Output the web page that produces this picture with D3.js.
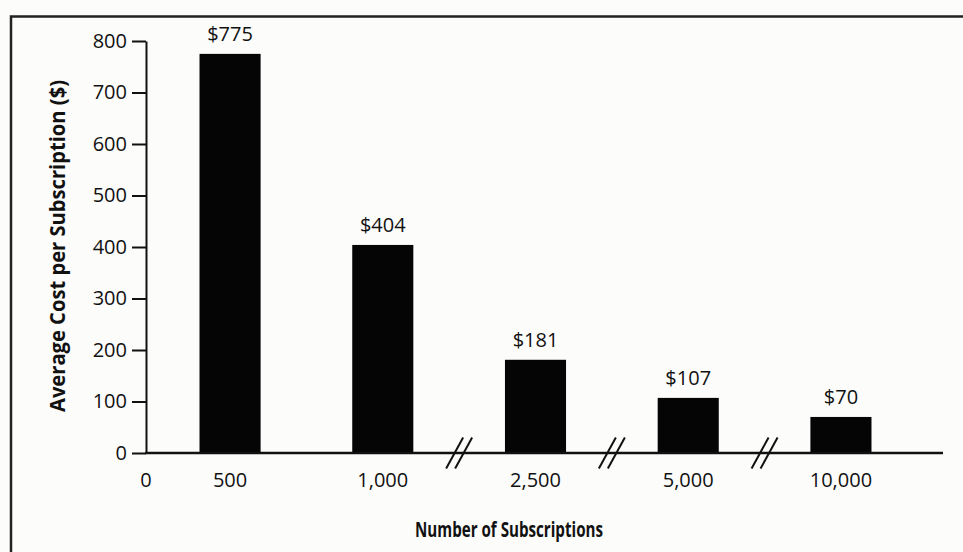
<!DOCTYPE html>
<html>
<head>
<meta charset="utf-8">
<script src="https://cdn.jsdelivr.net/npm/d3@7"></script>
<style>
  body { margin: 0; background: #fcfcfb; }
  svg { display: block; }
  text { font-family: "Open Sans", "Noto Sans", sans-serif; fill: #111; }
</style>
</head>
<body>
<svg></svg>
<script>
var subscriptions = ["500", "1,000", "2,500", "5,000", "10,000"];
var costs = [775, 404, 181, 107, 70];
var yTicks = [0, 100, 200, 300, 400, 500, 600, 700, 800];
// breaks in the x axis sit after these categories
var breaksAfter = ["1,000", "2,500", "5,000"];

var svgWidth = 963, svgHeight = 552;
var labelSize = "20px", labelWeight = 500;

var svg = d3.select("svg")
    .attr("width", svgWidth)
    .attr("height", svgHeight)

// page frame
svg.append("path")
    .attr("d", "M11,552 V16.5 H963")
    .attr("fill", "none")
    .attr("stroke", "#222")
    .attr("stroke-width", 2.5)

var originX = 146, baseY = 453;

var x = d3.scaleBand()
    .domain(subscriptions)
    .range([153.7, 917.3])
    .paddingInner(0.6)
    .paddingOuter(0.3)

var y = d3.scaleLinear()
    .domain([0, 800])
    .range([baseY, 41])

// bars
svg.selectAll(".bar")
    .data(costs)
    .enter()
    .append("rect")
    .attr("class", "bar")
    .attr("x", function(d, i) { return x(subscriptions[i]) })
    .attr("y", function(d) { return y(d) })
    .attr("width", x.bandwidth())
    .attr("height", function(d) { return y(0) - y(d) })
    .attr("fill", "#050505")

// value labels
svg.selectAll(".val")
    .data(costs)
    .enter()
    .append("text")
    .attr("class", "val")
    .attr("x", function(d, i) { return x(subscriptions[i]) + x.bandwidth() / 2 })
    .attr("y", function(d) { return y(d) - 13 })
    .attr("text-anchor", "middle")
    .style("font-size", labelSize)
    .style("font-weight", labelWeight)
    .text(function(d) { return "$" + d })

// y axis
var yAxis = d3.axisLeft(y)
    .tickValues(yTicks)
    .tickSize(14)
    .tickPadding(5)
    .tickSizeOuter(0)

var gy = svg.append("g")
    .attr("transform", "translate(" + originX + ",0)")
    .call(yAxis)
gy.select(".domain").attr("stroke", "#111").attr("stroke-width", 2)
gy.selectAll(".tick line").attr("stroke", "#111").attr("stroke-width", 2)
gy.selectAll(".tick text")
    .style("font-size", labelSize)
    .style("font-weight", labelWeight)
    .attr("font-family", null)
    .attr("fill", "#111")

// x baseline
svg.append("line")
    .attr("x1", originX - 1)
    .attr("x2", 943)
    .attr("y1", baseY)
    .attr("y2", baseY)
    .attr("stroke", "#111")
    .attr("stroke-width", 2.5)

// x labels
svg.append("text")
    .attr("x", originX)
    .attr("y", 487)
    .attr("text-anchor", "middle")
    .style("font-size", labelSize)
    .style("font-weight", labelWeight)
    .text("0")

svg.selectAll(".xlab")
    .data(subscriptions)
    .enter()
    .append("text")
    .attr("class", "xlab")
    .attr("x", function(d) { return x(d) + x.bandwidth() / 2 })
    .attr("y", 487)
    .attr("text-anchor", "middle")
    .style("font-size", labelSize)
    .style("font-weight", labelWeight)
    .text(function(d) { return d })

// axis break marks
breaksAfter.forEach(function(c) {
    var i = subscriptions.indexOf(c);
    var mid = (x(c) + x.bandwidth() + x(subscriptions[i + 1])) / 2;
    [-4.5, 4.5].forEach(function(off) {
        svg.append("line")
            .attr("x1", mid + off - 8.5)
            .attr("y1", baseY + 15.5)
            .attr("x2", mid + off + 8.5)
            .attr("y2", baseY - 15.5)
            .attr("stroke", "#111")
            .attr("stroke-width", 2)
    })
})

// axis titles
svg.append("text")
    .attr("x", 509)
    .attr("y", 537)
    .attr("text-anchor", "middle")
    .attr("textLength", 188)
    .attr("lengthAdjust", "spacingAndGlyphs")
    .style("font-size", "21px")
    .style("font-weight", "bold")
    .text("Number of Subscriptions")

svg.append("text")
    .attr("transform", "translate(65,246) rotate(-90)")
    .attr("text-anchor", "middle")
    .attr("textLength", 332)
    .attr("lengthAdjust", "spacingAndGlyphs")
    .style("font-size", "21px")
    .style("font-weight", "bold")
    .text("Average Cost per Subscription ($)")
</script>
</body>
</html>
